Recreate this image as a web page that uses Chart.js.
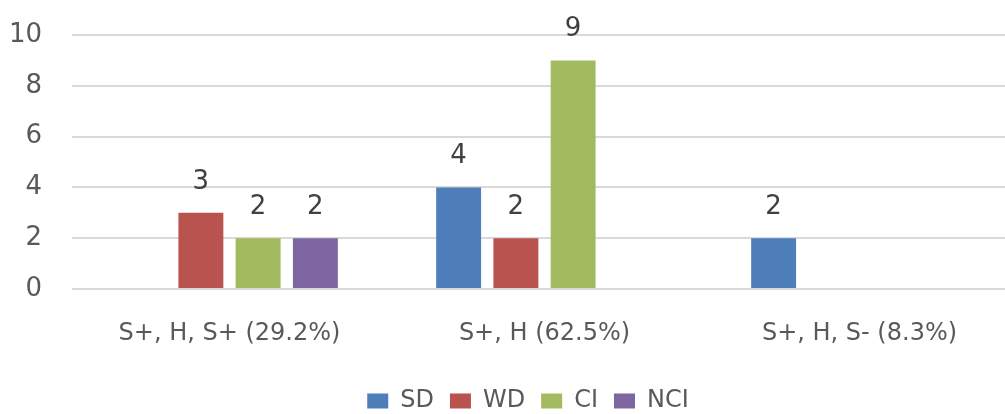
<!DOCTYPE html>
<html>
<head>
<meta charset="utf-8">
<script src="https://cdn.jsdelivr.net/npm/chart.js@4/dist/chart.umd.min.js"></script>
<style>
  html, body { margin: 0; padding: 0; background: #ffffff; overflow: hidden; }
  #wrap { position: relative; width: 1056px; height: 439px; }
</style>
</head>
<body>
<div id="wrap"><canvas id="chart" width="1056" height="439"></canvas></div>
<script>
// Categories and counts per response type
const categories = ['S+, H, S+ (29.2%)', 'S+, H (62.5%)', 'S+, H, S- (8.3%)'];
const seriesNames = ['SD', 'WD', 'CI', 'NCI'];
const sdValues  = [null, 4, 2];
const wdValues  = [3, 2, null];
const ciValues  = [2, 9, null];
const nciValues = [2, null, null];
const yTicks = [0, 2, 4, 6, 8, 10];

const seriesColors = ['#4F7FBB', '#B9534F', '#A2BB5F', '#7D65A0'];
const FONT = "'DejaVu Sans', sans-serif";

// Value labels above each bar
const valueLabels = {
  id: 'valueLabels',
  afterDatasetsDraw(chart) {
    const ctx = chart.ctx;
    ctx.save();
    ctx.font = '26px ' + FONT;
    ctx.fillStyle = '#404040';
    ctx.textAlign = 'center';
    ctx.textBaseline = 'alphabetic';
    chart.data.datasets.forEach((ds, i) => {
      const meta = chart.getDatasetMeta(i);
      meta.data.forEach((bar, j) => {
        const v = ds.data[j];
        if (v === null || v === undefined) return;
        ctx.fillText(String(v), bar.x, bar.y - 24);
      });
    });
    ctx.restore();
  }
};

// Center the legend under the whole chart frame rather than the padded box
const legendCenter = {
  id: 'legendCenter',
  afterLayout(chart) {
    const lg = chart.legend;
    if (!lg) return;
    const shift = 19.5;
    lg.left += shift;
    lg.right += shift;
  }
};

const allSeries = [sdValues, wdValues, ciValues, nciValues];

new Chart(document.getElementById('chart'), {
  type: 'bar',
  data: {
    labels: categories,
    datasets: seriesNames.map((name, i) => ({
      label: name,
      data: allSeries[i],
      backgroundColor: seriesColors[i],
      borderWidth: 0,
      categoryPercentage: 0.727,
      barPercentage: 0.785
    }))
  },
  options: {
    responsive: false,
    animation: false,
    devicePixelRatio: 1,
    layout: { padding: { left: 0, right: 39, top: 35, bottom: 16 } },
    plugins: {
      tooltip: { enabled: false },
      legend: {
        position: 'bottom',
        labels: {
          boxWidth: 21,
          boxHeight: 15,
          padding: 16,
          color: '#595959',
          font: { family: FONT, size: 24 }
        }
      }
    },
    scales: {
      x: {
        grid: { display: false },
        border: { display: false },
        ticks: { color: '#595959', font: { family: FONT, size: 24 }, padding: 22, maxRotation: 0 },
        afterFit(scale) { scale.height = 84; }
      },
      y: {
        min: 0,
        max: 10,
        afterBuildTicks(scale) { scale.ticks = yTicks.map(v => ({ value: v })); },
        grid: { color: '#d9d9d9', lineWidth: 2, drawTicks: false },
        border: { display: false },
        ticks: { color: '#595959', font: { family: FONT, size: 26 }, padding: 30 },
        afterFit(scale) {
          scale.width = 72;
          scale.paddingTop = 16;
          scale.paddingBottom = 16;
        }
      }
    }
  },
  plugins: [valueLabels, legendCenter]
});
</script>
</body>
</html>
